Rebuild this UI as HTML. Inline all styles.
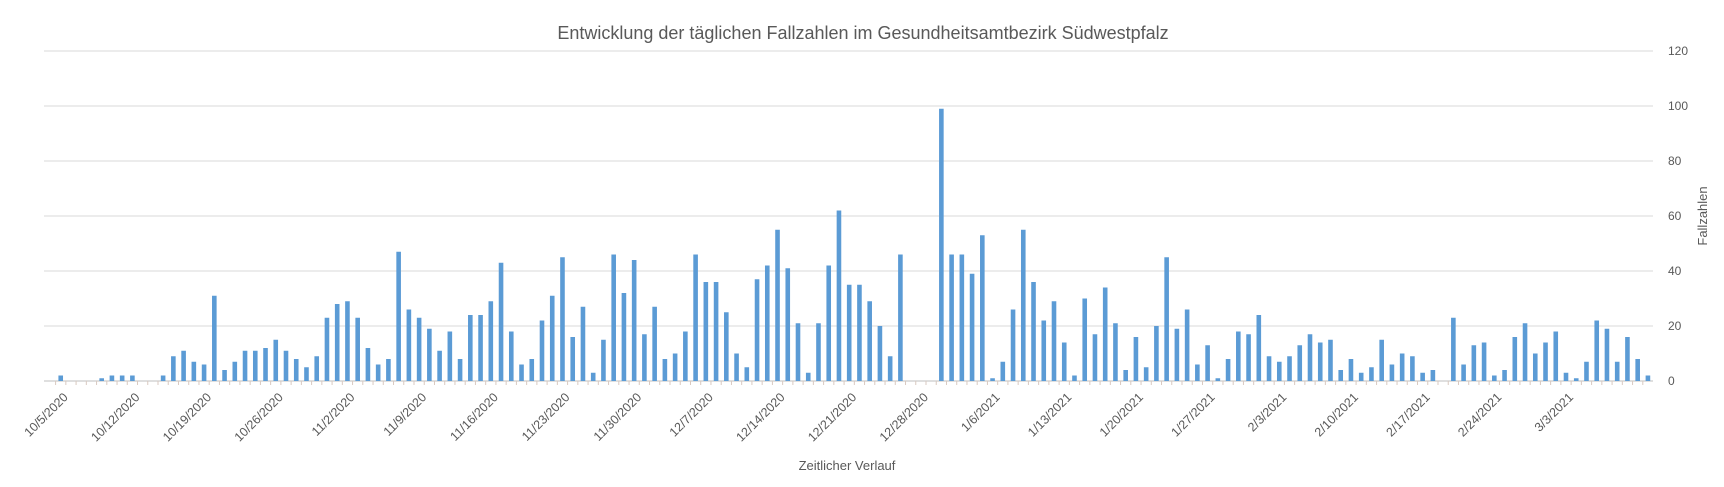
<!DOCTYPE html>
<html><head><meta charset="utf-8"><style>
html,body{margin:0;padding:0;background:#fff;}
svg{display:block;font-family:"Liberation Sans",Calibri,sans-serif;}
</style></head><body>
<svg id="chart" width="1724" height="487" xmlns="http://www.w3.org/2000/svg">
<text x="863" y="39" text-anchor="middle" font-size="18" fill="#595959">Entwicklung der täglichen Fallzahlen im Gesundheitsamtbezirk Südwestpfalz</text>
<text x="847" y="470" text-anchor="middle" font-size="13" fill="#595959">Zeitlicher Verlauf</text>
<text transform="translate(1707,216) rotate(-90)" text-anchor="middle" font-size="13" fill="#595959">Fallzahlen</text>
<g id="grid"></g><g id="bars"></g><g id="xlabels"></g><g id="ylabels"></g>
</svg>
<script>
const values = [2,0,0,0,1,2,2,2,0,0,2,9,11,7,6,31,4,7,11,11,12,15,11,8,5,9,23,28,29,23,12,6,8,47,26,23,19,11,18,8,24,24,29,43,18,6,8,22,31,45,16,27,3,15,46,32,44,17,27,8,10,18,46,36,36,25,10,5,37,42,55,41,21,3,21,42,62,35,35,29,20,9,46,0,0,0,99,46,46,39,53,1,7,26,55,36,22,29,14,2,30,17,34,21,4,16,5,20,45,19,26,6,13,1,8,18,17,24,9,7,9,13,17,14,15,4,8,3,5,15,6,10,9,3,4,0,23,6,13,14,2,4,16,21,10,14,18,3,1,7,22,19,7,16,8,2];
const yTicks = [0,20,40,60,80,100,120];
const xTickLabels = ["10/5/2020","10/12/2020","10/19/2020","10/26/2020","11/2/2020","11/9/2020","11/16/2020","11/23/2020","11/30/2020","12/7/2020","12/14/2020","12/21/2020","12/28/2020","1/6/2021","1/13/2021","1/20/2021","1/27/2021","2/3/2021","2/10/2021","2/17/2021","2/24/2021","3/3/2021"];
const NS="http://www.w3.org/2000/svg";
const x0=55.6, band=10.24, gridL=44, gridR=1653;
const yBase=381, yPer=2.75;
function xScale(i){return x0+band*(i+0.5);}
function yScale(v){return yBase-v*yPer;}
function mk(tag,attrs,parent){const e=document.createElementNS(NS,tag);for(const k in attrs)e.setAttribute(k,attrs[k]);parent.appendChild(e);return e;}
const grid=document.getElementById('grid'),bars=document.getElementById('bars'),xl=document.getElementById('xlabels'),yl=document.getElementById('ylabels');
yTicks.forEach(t=>{
  const l=mk('line',{x1:gridL,x2:gridR,y1:yScale(t),y2:yScale(t),stroke:t===0?'#bfbfbf':'#d9d9d9','stroke-width':1},grid);
  
  
  const tx=mk('text',{x:1668,y:yScale(t)+4,'font-size':12,fill:'#595959'},yl);
  tx.textContent=t;
  
  
});
values.forEach((v,i)=>{
  const tk=mk('line',{x1:x0+band*i,x2:x0+band*i,y1:yBase,y2:yBase+4,stroke:'#d9c9c0','stroke-width':1},grid);
  
  
  if(v>0){
    const r=mk('rect',{x:xScale(i)-2.3,y:yScale(v),width:4.6,height:v*yPer,fill:'#5b9bd5'},bars);
    
    
  }
});
xTickLabels.forEach((s,k)=>{
  const i=k*7;
  const x=xScale(i)+8, y=yBase+17;
  const t=mk('text',{x:x,y:y,'font-size':12.5,fill:'#595959','text-anchor':'end',transform:'rotate(-45 '+x+' '+y+')'},xl);
  t.textContent=s;
  
  
});
</script>
</body></html>
